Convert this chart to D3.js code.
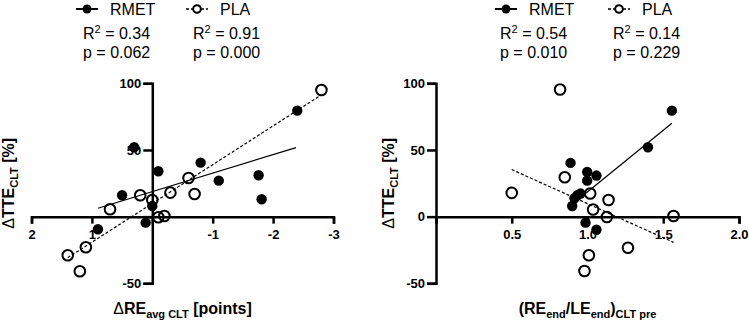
<!DOCTYPE html>
<html><head><meta charset="utf-8">
<script src="https://cdn.jsdelivr.net/npm/d3@7"></script>
<style>body{margin:0;background:#fff}svg{display:block}text{font-family:"Liberation Sans",Arial,sans-serif;fill:#000}</style>
</head><body>
<svg id="c" width="749" height="327"></svg>
<script>
// Left panel: ΔRE_avg CLT vs ΔTTE_CLT
const leftRMETx = [0.30, 0.50, -0.10, 0.00, 0.11, 0.90, -0.80, -1.10, -1.76, -1.81, -2.40];
const leftRMETy = [52, 16, 34, 8, -4.5, -9.5, 40.5, 27, 31, 13, 79.5];
const leftPLAx = [-2.80, -0.60, -0.30, -0.70, 0.20, 0.00, 0.70, -0.10, -0.20, 1.10, 1.40, 1.20];
const leftPLAy = [95, 29, 18, 17, 16, 12.5, 5.5, -0.5, 0.5, -23, -29, -41];
const leftFitRMET = [[0.90, 6.3], [-2.38, 51.8]];
const leftFitPLA = [[1.40, -30.8], [-2.80, 91.3]];
const leftStats = {rmet: ["0.34", "0.062"], pla: ["0.91", "0.000"]};
const leftXTicks = [2, 1, 0, -1, -2, -3];

// Right panel: (RE_end/LE_end)_CLT pre vs ΔTTE_CLT
const rightRMETx = [1.557, 1.399, 0.888, 1.059, 0.998, 0.998, 0.954, 0.934, 0.914, 0.899, 0.987, 1.059];
const rightRMETy = [79.5, 52, 40.3, 30.8, 33.5, 27, 17.3, 16, 13.8, 8, -4.5, -9.8];
const rightPLAx = [0.819, 0.850, 0.500, 1.018, 1.139, 1.037, 1.128, 1.568, 1.267, 1.009, 0.980];
const rightPLAy = [95.3, 29.5, 17.8, 17.3, 12.5, 5.3, -0.3, 0.5, -23.3, -29, -40.8];
const rightFitRMET = [[0.987, 17.3], [1.557, 70]];
const rightFitPLA = [[0.50, 35.3], [1.568, -19.3]];
const rightStats = {rmet: ["0.54", "0.010"], pla: ["0.14", "0.229"]};
const rightXTicks = [0, 0.5, 1.0, 1.5, 2.0];

const yTicks = [-50, 0, 50, 100];

const svg = d3.select("#c");

function panel(o) {
  const g = svg.append("g");
  const x = d3.scaleLinear().domain(o.xDomain).range(o.xRange);
  const y = d3.scaleLinear().domain([-50, 100]).range([283.3, 83.3]);

  const xa = g.append("g").attr("transform", `translate(0,${y(0)})`)
    .call(d3.axisBottom(x).tickValues(o.xTicks).tickSize(7).tickPadding(6)
      .tickFormat(d => d === 0 ? "" : o.xFmt(d)));
  const ya = g.append("g").attr("transform", `translate(${x(0)},0)`)
    .call(d3.axisLeft(y).tickValues(yTicks).tickSize(9).tickPadding(2)
      .tickFormat(d => (d === 0 && !o.showY0) ? "" : d));
  [xa, ya].forEach(a => {
    a.select(".domain").attr("stroke", "#000").attr("stroke-width", 2.5);
    a.selectAll(".tick line").attr("stroke", "#000").attr("stroke-width", 2.5);
    a.selectAll(".tick text").attr("font-family", "Liberation Sans, Arial, sans-serif")
      .attr("font-size", 13).attr("font-weight", "bold").attr("fill", "#000");
  });

  const line = d3.line().x(d => x(d[0])).y(d => y(d[1]));
  g.append("path").attr("d", line(o.fitR)).attr("fill", "none").attr("stroke", "#000").attr("stroke-width", 1.2);
  g.append("path").attr("d", line(o.fitP)).attr("fill", "none").attr("stroke", "#000").attr("stroke-width", 1.2).attr("stroke-dasharray", "3,2");

  g.selectAll(".pr").data(d3.zip(o.rx, o.ry)).join("circle")
    .attr("cx", d => x(d[0])).attr("cy", d => y(d[1])).attr("r", 5.2).attr("fill", "#000");
  g.selectAll(".pp").data(d3.zip(o.px, o.py)).join("circle")
    .attr("cx", d => x(d[0])).attr("cy", d => y(d[1])).attr("r", 5.3).attr("fill", "none")
    .attr("stroke", "#000").attr("stroke-width", 2);

  const xt = g.append("text").attr("x", (o.xRange[0] + o.xRange[1]) / 2).attr("y", 314)
    .attr("text-anchor", "middle").attr("font-weight", "bold").attr("font-size", 16);
  o.xTitle(xt);
  const yt = g.append("text").attr("transform", `translate(${o.yTitleX},183.3) rotate(-90)`)
    .attr("text-anchor", "middle").attr("font-weight", "bold").attr("font-size", 16);
  yt.append("tspan").attr("font-weight", "normal").text("Δ");
  yt.append("tspan").text("TTE");
  yt.append("tspan").attr("font-size", 11).attr("dy", 4).text("CLT");
  yt.append("tspan").attr("dy", -4).text(" [%]");

  const L = o.legend;
  const lg = g.append("g");
  lg.append("line").attr("x1", L.rx).attr("x2", L.rx + 22).attr("y1", 9).attr("y2", 9).attr("stroke", "#000").attr("stroke-width", 2);
  lg.append("circle").attr("cx", L.rx + 11).attr("cy", 9).attr("r", 4.5).attr("fill", "#000");
  lg.append("text").attr("x", L.rx + 34).attr("y", 15).attr("font-size", 16).text("RMET");
  lg.append("line").attr("x1", L.px).attr("x2", L.px + 22).attr("y1", 9).attr("y2", 9).attr("stroke", "#000").attr("stroke-width", 1.5).attr("stroke-dasharray", "3,2");
  lg.append("circle").attr("cx", L.px + 11).attr("cy", 9).attr("r", 3.8).attr("fill", "#fff").attr("stroke", "#000").attr("stroke-width", 2);
  lg.append("text").attr("x", L.px + 34).attr("y", 15).attr("font-size", 16).text("PLA");
  [[L.rsx, o.stats.rmet], [L.psx, o.stats.pla]].forEach(([sx, s]) => {
    const t1 = lg.append("text").attr("x", sx).attr("y", 39).attr("font-size", 16);
    t1.append("tspan").text("R");
    t1.append("tspan").attr("font-size", 11).attr("dy", -6).text("2");
    t1.append("tspan").attr("dy", 6).text(" = " + s[0]);
    lg.append("text").attr("x", sx).attr("y", 58).attr("font-size", 16).text("p = " + s[1]);
  });
}

panel({
  xDomain: [2, -3], xRange: [31.5, 333.5], xTicks: leftXTicks, xFmt: d => d, showY0: false,
  rx: leftRMETx, ry: leftRMETy, px: leftPLAx, py: leftPLAy, fitR: leftFitRMET, fitP: leftFitPLA,
  stats: leftStats, yTitleX: 14,
  legend: {rx: 76, px: 186, rsx: 83, psx: 193},
  xTitle: t => {
    t.append("tspan").attr("font-weight", "normal").text("Δ");
    t.append("tspan").text("RE");
    t.append("tspan").attr("font-size", 11).attr("dy", 4).text("avg CLT");
    t.append("tspan").attr("dy", -4).text(" [points]");
  }
});

panel({
  xDomain: [0, 2], xRange: [436, 739], xTicks: rightXTicks, xFmt: d3.format(".1f"), showY0: true,
  rx: rightRMETx, ry: rightRMETy, px: rightPLAx, py: rightPLAy, fitR: rightFitRMET, fitP: rightFitPLA,
  stats: rightStats, yTitleX: 394,
  legend: {rx: 495, px: 608, rsx: 500, psx: 613},
  xTitle: t => {
    t.append("tspan").text("(RE");
    t.append("tspan").attr("font-size", 11).attr("dy", 4).text("end");
    t.append("tspan").attr("dy", -4).text("/LE");
    t.append("tspan").attr("font-size", 11).attr("dy", 4).text("end");
    t.append("tspan").attr("dy", -4).text(")");
    t.append("tspan").attr("font-size", 11).attr("dy", 4).text("CLT pre");
  }
});
</script>
</body></html>
